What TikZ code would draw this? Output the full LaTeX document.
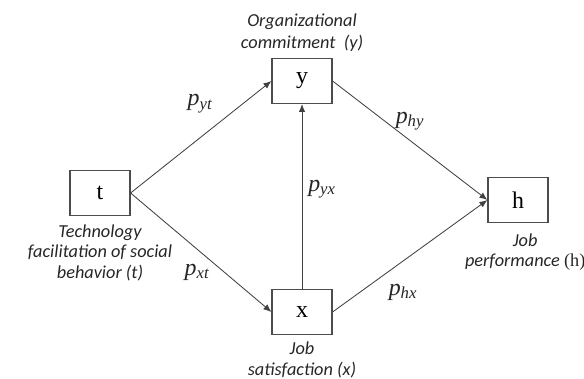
\documentclass[tikz,border=0pt]{standalone}
\usepackage{fontspec}
\setmainfont{Liberation Serif}
\newfontfamily\lblfont{Carlito}
\usetikzlibrary{positioning,arrows.meta}
\tikzset{
  var/.style  ={draw=black!70,thick,minimum width=1.5cm,minimum height=1.12cm,
                inner sep=0pt,font=\fontsize{17}{17}\selectfont},
  desc/.style ={align=center,font=\lblfont\itshape\fontsize{13}{14.5}\selectfont,
                text=black!85,inner sep=1pt},
  coef/.style ={font=\rmfamily\itshape\fontsize{17}{17}\selectfont,text=black!85,inner sep=1pt},
  arr/.style  ={-{Latex[length=2mm,width=1.6mm]},semithick,black!75},
}
\newcommand{\pth}[1]{p\textsubscript{#1}}
\begin{document}
\begin{tikzpicture}[x=0.025cm,y=-0.025cm]
 \useasboundingbox (0,0) rectangle (584,379);
 % path model boxes
 \node[var] (t) at (100,193) {t};
 \node[var] (y) at (302,81) {y};
 \node[var] (x) at (302,312) {x};
 \node[var] (h) at (518,200) {h};
 % descriptions
 \node[desc,below=0.18cm of t] (tlbl) {Technology\\facilitation of social\\behavior (t)};
 \node[desc,above=0.12cm of y,font=\lblfont\itshape\fontsize{13}{16}\selectfont] (ylbl) {Organizational\\commitment~ (y)};
 \node[desc,below=0.14cm of x] (xlbl) {Job\\satisfaction (x)};
 \node[desc,below=0.22cm of h,xshift=0.18cm] (hlbl) {Job\\performance {\rmfamily\upshape(h)}};
 % paths
 \draw[arr] (t.east) -- (y.west);
 \draw[arr] (t.east) -- (x.west);
 \draw[arr] (x.north) -- (y.south);
 \draw[arr] (y.east) -- (h.west);
 \draw[arr] (x.east) -- (h.west);
 % coefficients
 \node[coef] (pyt) at (200,104) {\pth{yt}};
 \node[coef] (pxt) at (197,272) {\pth{xt}};
 \node[coef] (pyx) at (322,189) {\pth{yx}};
 \node[coef] (phy) at (410,121) {\pth{hy}};
 \node[coef] (phx) at (403,292) {\pth{hx}};
\end{tikzpicture}
\end{document}
